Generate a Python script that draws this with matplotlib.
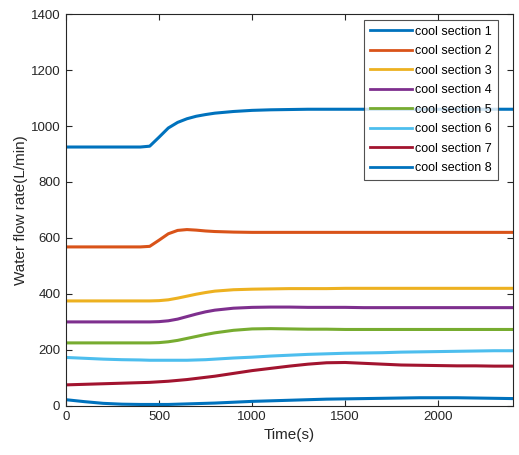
import numpy as np
import matplotlib.pyplot as plt

plt.rcParams['font.family'] = ['Liberation Sans', 'DejaVu Sans']

# sample times (s)
t = [0, 100, 200, 300, 400, 450, 500, 550, 600, 650, 700, 750, 800,
     900, 1000, 1100, 1200, 1300, 1400, 1500, 1600, 1700, 1800, 1900,
     2000, 2100, 2200, 2300, 2400]

# water flow rate of each cooling section (L/min)
s1 = [925, 925, 925, 925, 925, 928, 960, 993, 1013, 1026, 1035, 1041, 1046,
      1052, 1056, 1058, 1059, 1060, 1060, 1060, 1060, 1060, 1060, 1060,
      1060, 1060, 1060, 1060, 1060]
s2 = [568, 568, 568, 568, 568, 570, 592, 615, 627, 630, 628, 625, 623,
      621, 620, 620, 620, 620, 620, 620, 620, 620, 620, 620,
      620, 620, 620, 620, 620]
s3 = [375, 375, 375, 375, 375, 375, 376, 379, 385, 392, 399, 405, 410,
      415, 417, 418, 419, 419, 419, 420, 420, 420, 420, 420,
      420, 420, 420, 420, 420]
s4 = [300, 300, 300, 300, 300, 300, 301, 304, 310, 319, 328, 336, 342,
      349, 352, 353, 353, 352, 352, 352, 351, 351, 351, 351,
      351, 351, 351, 351, 351]
s5 = [225, 225, 225, 225, 225, 225, 226, 229, 234, 241, 248, 255, 261,
      270, 275, 276, 275, 274, 274, 273, 273, 273, 273, 273,
      273, 273, 273, 273, 273]
s6 = [173, 170, 167, 165, 164, 163, 163, 163, 163, 163, 164, 165, 167,
      171, 174, 178, 181, 184, 186, 188, 189, 190, 192, 193,
      194, 195, 196, 197, 197]
s7 = [75, 77, 79, 81, 83, 84, 86, 88, 91, 94, 98, 102, 106,
      116, 126, 134, 142, 149, 154, 155, 152, 149, 146, 145,
      144, 143, 143, 142, 142]
s8 = [22, 15, 9, 6, 5, 5, 5, 5, 6, 7, 8, 9, 10,
      13, 16, 18, 20, 22, 24, 25, 26, 27, 28, 29,
      29, 29, 28, 27, 26]

series = [s1, s2, s3, s4, s5, s6, s7, s8]
labels = ['cool section %d' % (i + 1) for i in range(8)]
colors = ['#0072BD', '#D95319', '#EDB120', '#7E2F8E',
          '#77AC30', '#4DBEEE', '#A2142F', '#0072BD']

fig = plt.figure(figsize=(5.19, 4.55), dpi=100)
ax = fig.add_axes([0.127, 0.108, 0.861, 0.861])

for y, lab, c in zip(series, labels, colors):
    ax.plot(t, y, color=c, linewidth=2.2, label=lab)

ax.set_xlim(0, 2400)
ax.set_ylim(0, 1400)
ax.set_xticks([0, 500, 1000, 1500, 2000])
ax.set_yticks(np.arange(0, 1401, 200))
ax.tick_params(direction='in', top=True, right=True, length=4,
               width=0.8, colors='#262626', labelsize=9.5, pad=4)
for sp in ax.spines.values():
    sp.set_color('#262626')
    sp.set_linewidth(0.8)

ax.set_xlabel('Time(s)', fontsize=11, color='#262626', labelpad=3)
ax.set_ylabel('Water flow rate(L/min)', fontsize=11, color='#262626', labelpad=2)

leg = ax.legend(loc='upper right', bbox_to_anchor=(0.966, 0.985), fontsize=9,
                frameon=True, fancybox=False, edgecolor='#262626',
                handlelength=3.4, handletextpad=0.25, labelspacing=0.6,
                borderpad=0.45, borderaxespad=0)
leg.get_frame().set_linewidth(0.8)
for ln in leg.get_lines():
    ln.set_linewidth(2.0)

plt.savefig('out.png', dpi=100)
